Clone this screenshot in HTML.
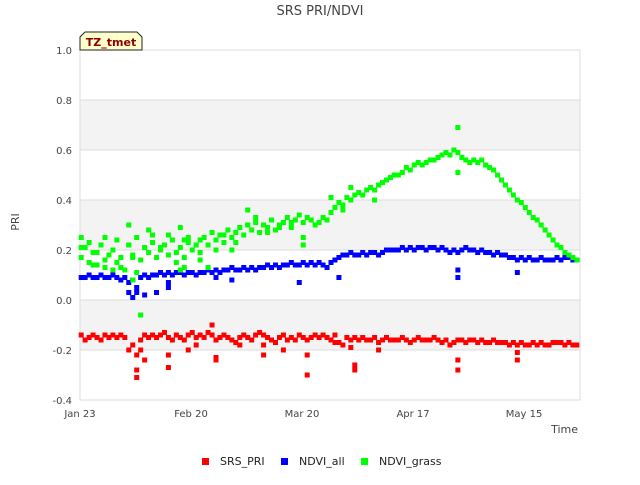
<!DOCTYPE html>
<html><head><meta charset="utf-8"><style>
body{margin:0;background:#fff;font-family:"Liberation Sans","DejaVu Sans",sans-serif}
svg text{font-family:"DejaVu Sans","Liberation Sans",sans-serif}
</style></head><body>
<svg id="c" width="640" height="480" viewBox="0 0 640 480">
<text x="320" y="15" text-anchor="middle" font-size="13" fill="#444">SRS PRI/NDVI</text>
<g id="bands"></g><g id="grid"></g>
<rect x="80" y="50" width="500" height="350" fill="none" stroke="#ddd"/>
<g id="marks"></g><g id="ticks"></g>
<text x="19" y="222" font-size="11" fill="#444" text-anchor="middle" transform="rotate(-90 19 222)">PRI</text>
<text x="578" y="433" font-size="11" fill="#444" text-anchor="end">Time</text>
<g>
<path d="M80,50 L80,37 L85,32 L137,32 L142,37 L142,50 Z" fill="#ffffcc" stroke="#222"/>
<text x="111" y="46" font-size="11" font-weight="bold" fill="#8b0000" text-anchor="middle">TZ_tmet</text>
</g>
<g>
<g><rect x="202" y="458" width="7" height="7" fill="#f00"/><text x="220" y="465" font-size="11" fill="#222">SRS_PRI</text></g>
<g><rect x="281" y="458" width="7" height="7" fill="#00f"/><text x="299" y="465" font-size="11" fill="#222">NDVI_all</text></g>
<g><rect x="361" y="458" width="7" height="7" fill="#0f0"/><text x="379" y="465" font-size="11" fill="#222">NDVI_grass</text></g>
</g>
</svg>
<script>
const yTicks=[1.0,0.8,0.6,0.4,0.2,0.0,-0.2,-0.4];
const yTickLabels=["1.0","0.8","0.6","0.4","0.2","0.0","-0.2","-0.4"];
const xTickDays=[0,28,56,84,112];
const xTickLabels=["Jan 23","Feb 20","Mar 20","Apr 17","May 15"];
const grass=[.17,.21,.15,.19,.14,.22,.16,.18,.20,.15,.17,.12,.22,.18,.25,.16,.21,.19,.23,.17,.20,.22,.18,.24,.19,.21,.17,.23,.20,.22,.19,.25,.22,.27,.24,.26,.23,.28,.25,.27,.29,.26,.30,.28,.31,.27,.30,.29,.32,.28,.30,.31,.33,.29,.32,.34,.31,.33,.32,.30,.31,.33,.32,.35,.37,.39,.38,.41,.40,.42,.43,.42,.44,.45,.44,.46,.47,.48,.49,.50,.50,.51,.53,.52,.54,.55,.54,.55,.56,.56,.57,.58,.59,.58,.60,.59,.57,.56,.55,.56,.55,.56,.54,.53,.52,.50,.48,.46,.44,.42,.40,.39,.37,.35,.33,.32,.30,.28,.26,.24,.22,.21,.19,.18,.17,.16];
const ndvi=[.09,.09,.10,.09,.09,.10,.09,.09,.10,.09,.08,.09,.03,.08,.05,.09,.10,.09,.10,.10,.11,.10,.11,.10,.11,.11,.10,.11,.11,.10,.11,.11,.12,.11,.12,.11,.12,.12,.13,.12,.12,.13,.12,.13,.12,.13,.13,.14,.13,.14,.13,.14,.14,.15,.14,.14,.15,.14,.15,.14,.15,.14,.13,.15,.16,.17,.18,.18,.19,.18,.18,.19,.18,.19,.19,.18,.19,.20,.20,.20,.20,.21,.20,.21,.20,.21,.21,.20,.21,.21,.20,.21,.20,.19,.20,.19,.20,.21,.20,.20,.19,.20,.19,.19,.18,.19,.18,.18,.17,.17,.16,.17,.16,.17,.16,.16,.17,.16,.16,.16,.17,.16,.17,.17,.16,.16];
const pri=[-.14,-.16,-.15,-.14,-.15,-.16,-.14,-.15,-.14,-.15,-.14,-.15,-.20,-.18,-.22,-.16,-.14,-.15,-.14,-.15,-.14,-.13,-.15,-.16,-.14,-.15,-.16,-.14,-.13,-.15,-.14,-.15,-.13,-.14,-.16,-.15,-.14,-.15,-.16,-.17,-.15,-.14,-.15,-.16,-.14,-.13,-.14,-.15,-.16,-.17,-.15,-.14,-.16,-.15,-.16,-.14,-.15,-.16,-.15,-.14,-.15,-.14,-.15,-.16,-.14,-.17,-.18,-.15,-.16,-.15,-.16,-.15,-.16,-.16,-.15,-.17,-.16,-.15,-.16,-.16,-.16,-.15,-.16,-.17,-.16,-.15,-.16,-.16,-.16,-.15,-.16,-.17,-.16,-.18,-.17,-.16,-.16,-.17,-.16,-.16,-.17,-.16,-.17,-.17,-.16,-.17,-.17,-.17,-.18,-.17,-.18,-.17,-.18,-.18,-.17,-.18,-.17,-.18,-.18,-.17,-.17,-.17,-.18,-.17,-.18,-.18];
const priExtraDays=[14,14,16,15,22,22,27,34,34,46,46,51,57,57,68,69,69,75,95,95,110,110,33,29,40,64];
const priExtraVals=[-.28,-.31,-.24,-.20,-.22,-.27,-.20,-.23,-.24,-.22,-.18,-.20,-.22,-.30,-.19,-.28,-.26,-.20,-.24,-.28,-.21,-.24,-.10,-.18,-.18,-.17];
const ndviExtraDays=[13,14,16,19,22,22,34,38,55,65,95,95,110,12];
const ndviExtraVals=[.01,.03,.02,.03,.05,.07,.09,.08,.07,.09,.12,.09,.11,.07];
const grassExtraDays=[0,0,2,4,6,6,8,9,12,13,14,13,17,18,20,22,24,25,26,27,30,32,34,36,39,42,42,44,47,50,53,56,56,63,68,66,74,95,95,15,25,10,3,12,26,38,30];
const grassExtraVals=[.25,.21,.23,.19,.25,.13,.12,.24,.30,.17,.11,.08,.28,.26,.21,.26,.15,.29,.13,.25,.16,.13,.20,.26,.23,.30,.36,.33,.27,.29,.31,.25,.22,.41,.45,.36,.40,.69,.51,-.06,.12,.13,.14,.22,.24,.20,.24];

const NS="http://www.w3.org/2000/svg";
const X0=80,X1=580,Y0=50,Y1=400,DAYS=126.1,YMIN=-0.4,YMAX=1.0;
function xs(d){return X0+(d+0.3)/DAYS*(X1-X0);}
function ys(v){return Y1-(v-YMIN)/(YMAX-YMIN)*(Y1-Y0);}
function mk(tag,attrs,parent){const e=document.createElementNS(NS,tag);for(const k in attrs)e.setAttribute(k,attrs[k]);parent.appendChild(e);return e;}
const bands=document.getElementById('bands'),grid=document.getElementById('grid'),ticks=document.getElementById('ticks'),marks=document.getElementById('marks');
[[0.6,0.8],[0.2,0.4],[-0.2,0.0]].forEach(b=>{
 const r=mk('rect',{x:X0,y:ys(b[1]),width:X1-X0,height:ys(b[0])-ys(b[1]),fill:'#f3f3f3'},bands);
 
 
});
yTicks.forEach((v,i)=>{
 const l=mk('line',{x1:X0,x2:X1,y1:ys(v),y2:ys(v),stroke:'#ddd'},grid);
 
 
 const t=mk('text',{x:72,y:ys(v)+4,'font-size':10,fill:'#444','text-anchor':'end'},ticks);
 t.textContent=yTickLabels[i];
 
 
});
xTickDays.forEach((d,i)=>{
 const t=mk('text',{x:X0+d/DAYS*(X1-X0),y:417,'font-size':10,fill:'#444','text-anchor':'middle'},ticks);
 t.textContent=xTickLabels[i];
 
 
});
function series(vals,exDays,exVals,color,name){
 const g=mk('g',{fill:color},marks);
 
 
 vals.forEach((v,d)=>{const r=mk('rect',{x:xs(d)-2.5,y:ys(v)-2.5,width:5,height:5},g);
  
  });
 exDays.forEach((d,i)=>{const r=mk('rect',{x:xs(d)-2.5,y:ys(exVals[i])-2.5,width:5,height:5},g);
  
  });
}
series(pri,priExtraDays,priExtraVals,'#f00','srs-pri');
series(ndvi,ndviExtraDays,ndviExtraVals,'#00f','ndvi-all');
series(grass,grassExtraDays,grassExtraVals,'#0f0','ndvi-grass');
</script>
</body></html>
